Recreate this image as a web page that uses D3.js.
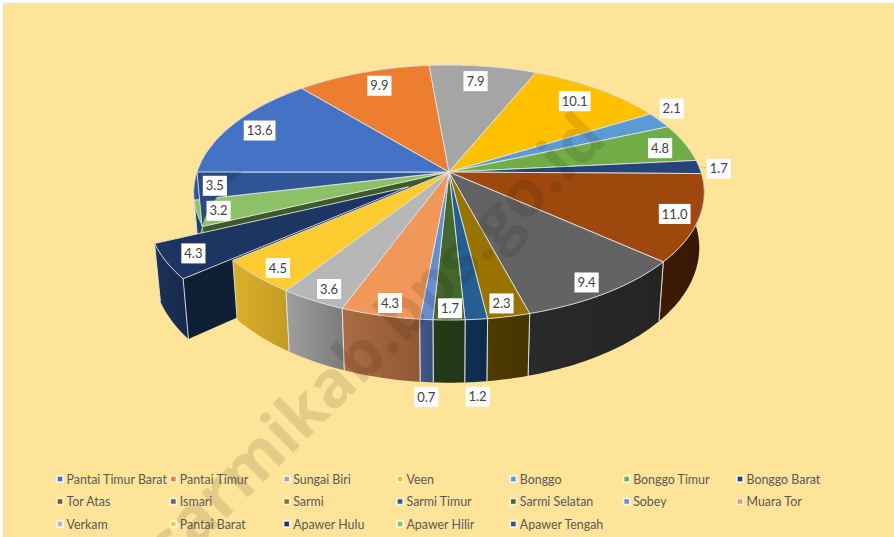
<!DOCTYPE html>
<html>
<head>
<meta charset="utf-8">
<script src="https://cdn.jsdelivr.net/npm/d3@7/dist/d3.min.js"></script>
<style>
html,body{margin:0;padding:0;background:#fff;}
svg{display:block;}
text{font-family:Lato,"Open Sans","Noto Sans",sans-serif;}
</style>
</head>
<body>
<svg id="c" width="894" height="537"></svg>
<script>
const categories = ["Pantai Timur Barat","Pantai Timur","Sungai Biri","Veen","Bonggo","Bonggo Timur","Bonggo Barat","Tor Atas","Ismari","Sarmi","Sarmi Timur","Sarmi Selatan","Sobey","Muara Tor","Verkam","Pantai Barat","Apawer Hulu","Apawer Hilir","Apawer Tengah"];
const values = [13.6,9.9,7.9,10.1,2.1,4.8,1.7,11.0,9.4,2.3,1.2,1.7,0.7,4.3,3.6,4.5,4.3,3.2,3.5];
const explodedCategory = "Apawer Hulu";

// styles
const topColors = ["#4472C4","#ED7D31","#A5A5A5","#FFC000","#5B9BD5","#70AD47","#264478","#9E480E","#636363","#997300","#255E91","#43682B","#698ED0","#F1975A","#B7B7B7","#FBCB2F","#1C3562","#8CC168","#2F5597"];
const sideStart = ["#2a4a80","#9a5020","#6a6a6a","#a07a00","#3a6488","#4f7e32","#18305a","#3f1b05","#2a2a2a","#4e3b00","#0f3050","#233a17","#43598c","#ab6c44","#9f9f9f","#dbb02c","#1b3158","#6fa153","#223f72"];
const sideEnd   = ["#2a4a80","#9a5020","#6a6a6a","#a07a00","#3a6488","#4f7e32","#18305a","#351704","#242424","#463400","#0d2b48","#203615","#3a4e7c","#8f5833","#7b7b7b","#c39b22","#172a4c","#6fa153","#223f72"];

// layout (projection of the tilted disc)
const W = 894, H = 537, BG = "#FEE499";
const persp = 0.161;
const topX = d3.scaleLinear().domain([0,1]).range([449,701]);
const topY = d3.scaleLinear().domain([0,1]).range([172,296.2]);
const lowX = d3.scaleLinear().domain([0,1]).range([449,696]);
const lowY = d3.scaleLinear().domain([0,1]).range([226,357.5]);
const explodeShift = [-0.157,0.117];
const labelRadius = 0.85;
const labelNudge = [[-5,0],[5,0],[-3,1],[-3,1],[42,-19],[10,1],[57,1],[15,3],[7,10],[3,12],[6,103],[1,14],[-4,103],[-2,12.5],[-7,10.5],[-11,9],[-12,4],[-18,4],[-18,2]];
const leaderFor = ["Bonggo Barat"];
const legendCols = d3.scaleLinear().domain([0,6]).range([60,740]);
const legendRows = d3.scaleLinear().domain([0,2]).range([479,524]);

const svg = d3.select("#c");
svg.append("rect").attr("x",3).attr("y",3).attr("width",W-3).attr("height",H-3).attr("fill",BG);

const pie = d3.pie().sort(null).value(d=>d.value).startAngle(-Math.PI/2).endAngle(Math.PI*1.5);
const arcs = pie(categories.map((name,i)=>({name,value:values[i],i})));

function project(angle,r,shift,level){
  const u = r*Math.sin(angle)+shift[0], v = -r*Math.cos(angle)+shift[1];
  const w = 1-persp*v;
  return level==="low" ? [lowX(u/w),lowY(v/w)] : [topX(u/w),topY(v/w)];
}
function shiftOf(a){ return a.data.name===explodedCategory ? explodeShift : [0,0]; }
function rim(a,level){
  const n = Math.max(2,Math.ceil((a.endAngle-a.startAngle)/0.02));
  return d3.range(n+1).map(k=>project(a.startAngle+(a.endAngle-a.startAngle)*k/n,1,shiftOf(a),level));
}
const poly = d3.line();
const closed = pts => poly(pts)+"Z";

const defs = svg.append("defs");
arcs.forEach(a=>{
  const g = defs.append("linearGradient").attr("id","side"+a.index).attr("x1",0).attr("x2",1).attr("y1",0).attr("y2",0);
  g.append("stop").attr("offset",0).attr("stop-color",sideStart[a.index]);
  g.append("stop").attr("offset",1).attr("stop-color",sideEnd[a.index]);
});

const RIM = "rgba(226,226,226,0.9)";
function drawWall(g,a){
  const up = rim(a,"top"), lo = rim(a,"low");
  g.append("path").attr("d",closed(up.concat(lo.slice().reverse()))).attr("fill",`url(#side${a.index})`);
  if(Math.cos(a.startAngle)<0.1) g.append("line").attr("x1",up[0][0]).attr("y1",up[0][1]).attr("x2",lo[0][0]).attr("y2",lo[0][1]).attr("stroke",RIM);
  const e = up.length-1;
  if(Math.cos(a.endAngle)<0.1) g.append("line").attr("x1",up[e][0]).attr("y1",up[e][1]).attr("x2",lo[e][0]).attr("y2",lo[e][1]).attr("stroke",RIM);
}
function drawTop(g,a){
  const s = shiftOf(a);
  g.append("path").attr("d",closed([project(0,0,s,"top")].concat(rim(a,"top"))))
    .attr("fill",topColors[a.index]).attr("stroke",RIM).attr("stroke-width",1).attr("stroke-linejoin","round");
}
function radialFace(g,a,angle,fill){
  const s = shiftOf(a);
  g.append("path").attr("d",closed([project(0,0,s,"top"),project(angle,1,s,"top"),project(angle,1,s,"low"),project(0,0,s,"low")])).attr("fill",fill);
}

const ex = arcs.find(a=>a.data.name===explodedCategory);
const backArcs = arcs.filter(a=>a.index>ex.index);
const frontArcs = arcs.filter(a=>a.index<ex.index);
const chart = svg.append("g");

// behind the pulled-out slice
backArcs.forEach(a=>drawWall(chart,a));
radialFace(chart,backArcs[0],backArcs[0].startAngle,"#3E5A2A");
backArcs.forEach(a=>drawTop(chart,a));
// pulled-out slice
radialFace(chart,ex,ex.startAngle,"#0F1F36");
drawWall(chart,ex);
drawTop(chart,ex);
// rest of the pie
frontArcs.slice().sort((p,q)=>Math.cos(q.startAngle)-Math.cos(p.startAngle)).forEach(a=>drawWall(chart,a));
frontArcs.forEach(a=>drawTop(chart,a));

// watermark
svg.append("text").attr("transform","translate(172,572) rotate(-44.6)")
  .attr("font-size",65).attr("font-weight",700)
  .attr("fill","rgba(30,15,0,0.12)")
  .style("font-family","'Open Sans',sans-serif")
  .text("sarmikab.bps.go.id");

// data labels
const labels = svg.append("g");
arcs.forEach(a=>{
  const mid = (a.startAngle+a.endAngle)/2;
  const p = project(mid,labelRadius,shiftOf(a),"top");
  const cx = p[0]+labelNudge[a.index][0], cy = p[1]+labelNudge[a.index][1];
  const g = labels.append("g");
  if(leaderFor.includes(a.data.name)){
    const o = project(mid,1,[0,0],"top");
    g.append("line").attr("x1",o[0]).attr("y1",o[1]).attr("x2",cx).attr("y2",cy).attr("stroke","#c8c8c8");
  }
  const r = g.append("rect").attr("fill","#fff");
  const t = g.append("text").attr("x",cx).attr("y",cy+4.6).attr("text-anchor","middle")
    .attr("font-size",13).attr("fill","#404040").text(a.data.value.toFixed(1));
  const w = t.node().getComputedTextLength()+6;
  r.attr("x",cx-w/2).attr("y",cy-10).attr("width",w).attr("height",20);
});

// legend
const legend = svg.append("g");
categories.forEach((name,i)=>{
  const col = i%7, row = Math.floor(i/7);
  const x = legendCols(col), y = legendRows(row);
  legend.append("rect").attr("x",x-3).attr("y",y-3).attr("width",6).attr("height",6)
    .attr("fill",topColors[i]).attr("stroke","#fff").attr("stroke-opacity",0.85).attr("stroke-width",1.5);
  legend.append("text").attr("x",x+6.5).attr("y",y+4.5).attr("font-size",12.4).attr("fill","#595959").text(name);
});
</script>
</body>
</html>
